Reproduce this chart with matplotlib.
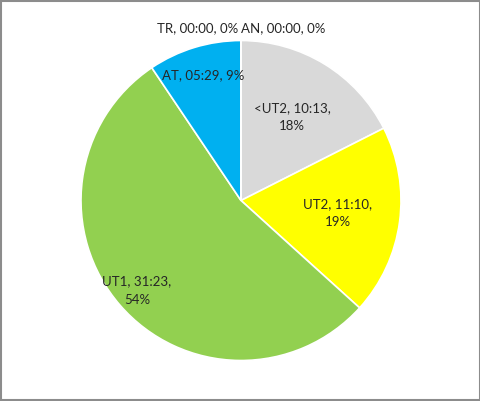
import numpy as np
import matplotlib.pyplot as plt
from matplotlib.patches import Rectangle

# zones, time spent (seconds) and the mm:ss text shown in the labels
zones = ['<UT2', 'UT2', 'UT1', 'AT', 'TR', 'AN']
seconds = [613, 670, 1883, 329, 0, 0]
times = ['10:13', '11:10', '31:23', '05:29', '00:00', '00:00']
colors = ['#D9D9D9', '#FFFF00', '#92D050', '#00B0F0', '#7F7F7F', '#C00000']

plt.rcParams['font.family'] = ['Lato', 'DejaVu Sans']

fig = plt.figure(figsize=(4.81, 4.01), dpi=100)
ax = fig.add_axes([0, 0, 1, 1])

cx, cy, R = 241, 200.5, 160
wedges, _ = ax.pie(seconds, colors=colors, startangle=90, counterclock=False,
                   center=(cx, cy), radius=R, frame=True,
                   wedgeprops=dict(edgecolor='white', linewidth=1.2))
ax.set_xlim(0, 481)
ax.set_ylim(0, 401)
ax.set_aspect('equal')
ax.axis('off')

total = sum(seconds)
# radial distance of each label, as a fraction of the radius (layout only)
label_r = [0.61, 0.61, 0.86, 0.82]
for i, (z, s, t) in enumerate(zip(zones, seconds, times)):
    pct = round(100 * s / total)
    if s > 0:
        w = wedges[i]
        mid = np.deg2rad((w.theta1 + w.theta2) / 2)
        x = cx + label_r[i] * R * np.cos(mid)
        y = cy + label_r[i] * R * np.sin(mid)
        if z == 'AT':
            txt = f'{z}, {t}, {pct}%'
        else:
            txt = f'{z}, {t},\n{pct}%'
        ax.text(x, y, txt, ha='center', va='center', fontsize=9.5,
                color='#262626', linespacing=1.6, multialignment='center')
    else:
        # zero-size slices sit at the top; labels just outside the pie
        ha = 'right' if z == 'TR' else 'left'
        dx = -3 if z == 'TR' else 0
        ax.text(cx + dx, cy + 1.08 * R, f'{z}, {t}, {pct}%', ha=ha,
                va='center', fontsize=9.5, color='#262626')

fig.patches.append(Rectangle((0.002, 0.002), 0.995, 0.995, transform=fig.transFigure,
                             fill=False, edgecolor='#8C8C8C', linewidth=1.5))

fig.savefig('out.png', dpi=100)
